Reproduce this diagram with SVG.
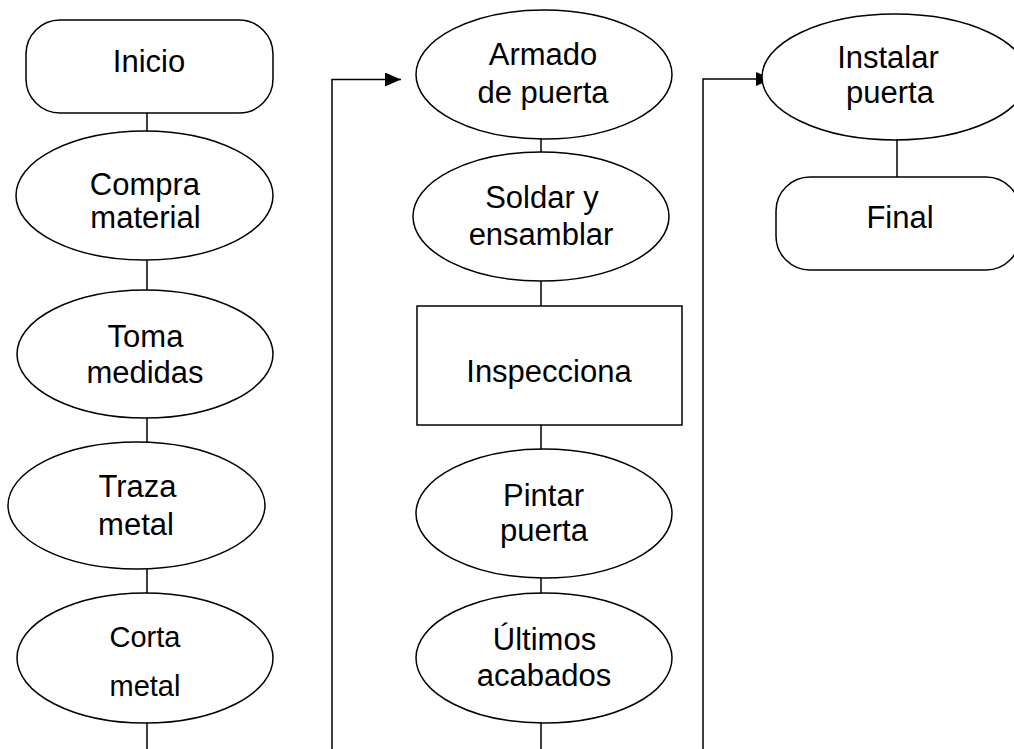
<svg xmlns="http://www.w3.org/2000/svg" width="1014" height="749" viewBox="0 0 1014 749">
<defs>
<style>
.shape{fill:#fff;stroke:#000;stroke-width:1.5}
.line{fill:none;stroke:#000;stroke-width:1.5}
.t{font-family:"Liberation Sans",Arial,sans-serif;font-size:31px;fill:#000;text-anchor:middle}
.s{font-size:29px}
</style>
<marker id="arr" markerUnits="userSpaceOnUse" markerWidth="18" markerHeight="16" refX="16" refY="7" orient="auto">
<path d="M0,0 L16,7 L0,14 Z" fill="#000"/>
</marker>
</defs>
<rect width="1014" height="749" fill="#fff"/>
<g id="connectors">
<line class="line" x1="147" y1="113" x2="147" y2="131"/>
<line class="line" x1="147" y1="260" x2="147" y2="290"/>
<line class="line" x1="147" y1="418" x2="147" y2="442"/>
<line class="line" x1="147" y1="569" x2="147" y2="593"/>
<line class="line" x1="147" y1="723" x2="147" y2="749"/>
<path class="line" d="M332,749 L332,79.5 L401,79.5" marker-end="url(#arr)"/>
<line class="line" x1="541" y1="139" x2="541" y2="152"/>
<line class="line" x1="541" y1="281" x2="541" y2="306"/>
<line class="line" x1="541" y1="425" x2="541" y2="449"/>
<line class="line" x1="541" y1="578" x2="541" y2="593"/>
<line class="line" x1="541" y1="723" x2="541" y2="749"/>
<path class="line" d="M703,749 L703,79 L772,79" marker-end="url(#arr)"/>
<line class="line" x1="897" y1="140" x2="897" y2="177"/>
</g>
<g id="inicio">
<rect class="shape" x="26" y="20" width="247" height="93" rx="34" ry="34"/>
<text class="t" x="149" y="72">Inicio</text>
</g>
<g id="compra">
<ellipse class="shape" cx="144.5" cy="195.5" rx="128.5" ry="64.5"/>
<text class="t" x="145" y="195">Compra</text>
<text class="t" x="145.5" y="228">material</text>
</g>
<g id="toma">
<ellipse class="shape" cx="145" cy="354" rx="128" ry="64"/>
<text class="t" x="145.5" y="347">Toma</text>
<text class="t" x="145" y="383">medidas</text>
</g>
<g id="traza">
<ellipse class="shape" cx="136.5" cy="505.5" rx="128.5" ry="63.5"/>
<text class="t" x="137.5" y="497">Traza</text>
<text class="t" x="136" y="535">metal</text>
</g>
<g id="corta">
<ellipse class="shape" cx="145" cy="658" rx="128" ry="65"/>
<text class="t s" x="145" y="647">Corta</text>
<text class="t s" x="145" y="696">metal</text>
</g>
<g id="armado">
<ellipse class="shape" cx="544" cy="74.5" rx="128" ry="64.5"/>
<text class="t" x="543" y="65">Armado</text>
<text class="t" x="543" y="103">de puerta</text>
</g>
<g id="soldar">
<ellipse class="shape" cx="541" cy="216.5" rx="128" ry="64.5"/>
<text class="t" x="542" y="208">Soldar y</text>
<text class="t" x="541" y="245">ensamblar</text>
</g>
<g id="inspecciona">
<rect class="shape" x="417" y="306" width="265" height="119"/>
<text class="t" x="549" y="382">Inspecciona</text>
</g>
<g id="pintar">
<ellipse class="shape" cx="544" cy="513.5" rx="128" ry="64.5"/>
<text class="t" x="543.5" y="506">Pintar</text>
<text class="t" x="544" y="541">puerta</text>
</g>
<g id="ultimos">
<ellipse class="shape" cx="544" cy="658" rx="128" ry="65"/>
<text class="t" x="544.5" y="650">Últimos</text>
<text class="t" x="544" y="686">acabados</text>
</g>
<g id="instalar">
<ellipse class="shape" cx="895" cy="77" rx="133" ry="63"/>
<text class="t" x="888" y="68">Instalar</text>
<text class="t" x="890" y="103">puerta</text>
</g>
<g id="final">
<rect class="shape" x="776" y="177" width="244" height="93" rx="34" ry="34"/>
<text class="t" x="900" y="228">Final</text>
</g>
</svg>
